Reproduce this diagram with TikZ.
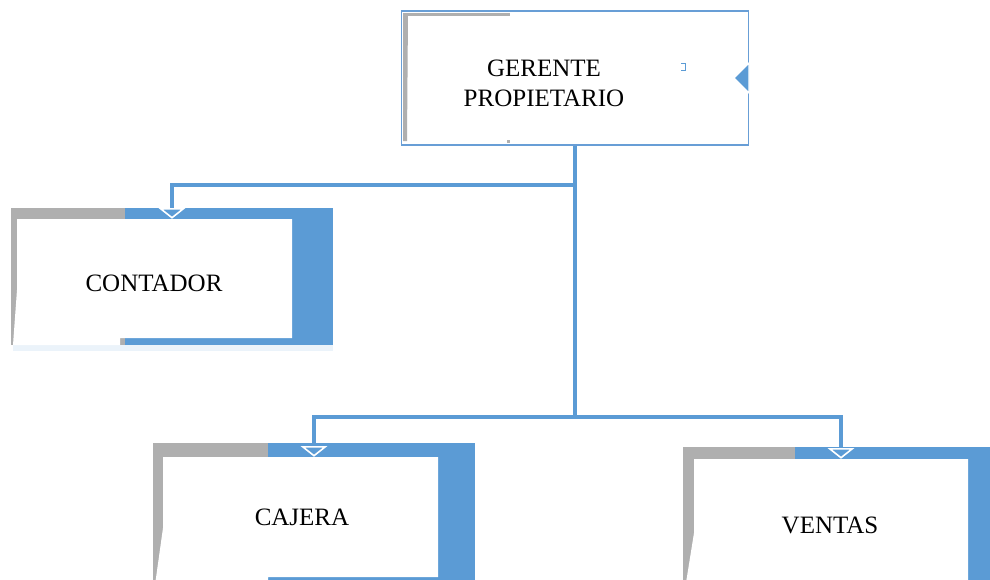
\documentclass[tikz,border=0pt]{standalone}
\usepackage{fontspec}
\setmainfont{Liberation Serif}
\usetikzlibrary{arrows.meta}
\definecolor{officeblue}{RGB}{91,155,213}
\definecolor{officegray}{RGB}{175,175,175}
\definecolor{edgeblue}{RGB}{104,158,214}

\begin{document}
\begin{tikzpicture}[
    x=0.75pt, y=-0.75pt,
    topframe/.style={rectangle, draw=edgeblue, line width=1.1pt, fill=white, inner sep=0pt, minimum width=347*0.75pt, minimum height=134*0.75pt},
    frame/.style={rectangle, fill=officeblue, inner sep=0pt},
    label/.style={inner sep=0pt, align=center, font=\fontsize{18.75}{22.5}\selectfont},
    trunk/.style={draw=officeblue, line width=2.4pt},
    link/.style={trunk, -{Triangle[width=20pt, length=8pt, color=white, fill=officeblue, line width=1.2pt]}}
]
    \useasboundingbox (0,0) rectangle (990,579);
    \clip (0,0) rectangle (990,579);

    % Gerente
    \node[topframe] (gerente) at (575,78) {};
    \fill[officegray] (404,13) rectangle (510,16);
    \fill[officegray] (403,13) -- (408,13) -- (407,141) -- (403,141) -- cycle;
    \fill[officegray] (507,140) rectangle (510,143);
    \draw[officeblue, line width=0.7pt] (681,63) -- (685,63) -- (685,70) -- (681,70);
    \filldraw[fill=officeblue, draw=white, line width=1pt] (734,78) -- (749,63) -- (749,93) -- cycle;
    \node[label] (gerente_txt) at (544,83) {GERENTE\\PROPIETARIO};

    % Contador
    \fill[officeblue!12] (13,345) rectangle (333,351);
    \node[frame, minimum width=322*0.75pt, minimum height=137*0.75pt] (contador) at (172,276.5) {};
    \fill[officegray] (11,208) rectangle (125,345);
    \fill[white] (17,219) -- (292,219) -- (292,338) -- (120,338) -- (120,345) -- (13,345) -- (17,290) -- cycle;
    \node[label] (contador_txt) at (154,283) {CONTADOR};

    % Cajera
    \node[frame, minimum width=322*0.75pt, minimum height=142*0.75pt] (cajera) at (314,514) {};
    \fill[officegray] (153,443) rectangle (268,585);
    \fill[white] (163,457) -- (438,457) -- (438,577) -- (268,577) -- (268,585) -- (155,585) -- (163,528) -- cycle;
    \node[label] (cajera_txt) at (302,517) {CAJERA};

    % Ventas
    \node[frame, minimum width=316*0.75pt, minimum height=142*0.75pt] (ventas) at (841,518) {};
    \fill[officegray] (683,447) rectangle (795,589);
    \fill[white] (694,459) -- (968,459) -- (968,589) -- (685,589) -- (694,533) -- cycle;
    \node[label] (ventas_txt) at (830,525) {VENTAS};

    % Arrows
    \coordinate (split1) at (575,185);
    \coordinate (split2) at (575,417);
    \draw[trunk] (gerente.south) -- (split2);
    \draw[link] (split1) -| ([yshift=-8.25pt]contador.north);
    \draw[link] (split2) -| ([yshift=-10.5pt]cajera.north);
    \draw[link] (split2) -| ([yshift=-9pt]ventas.north);

\end{tikzpicture}
\end{document}
